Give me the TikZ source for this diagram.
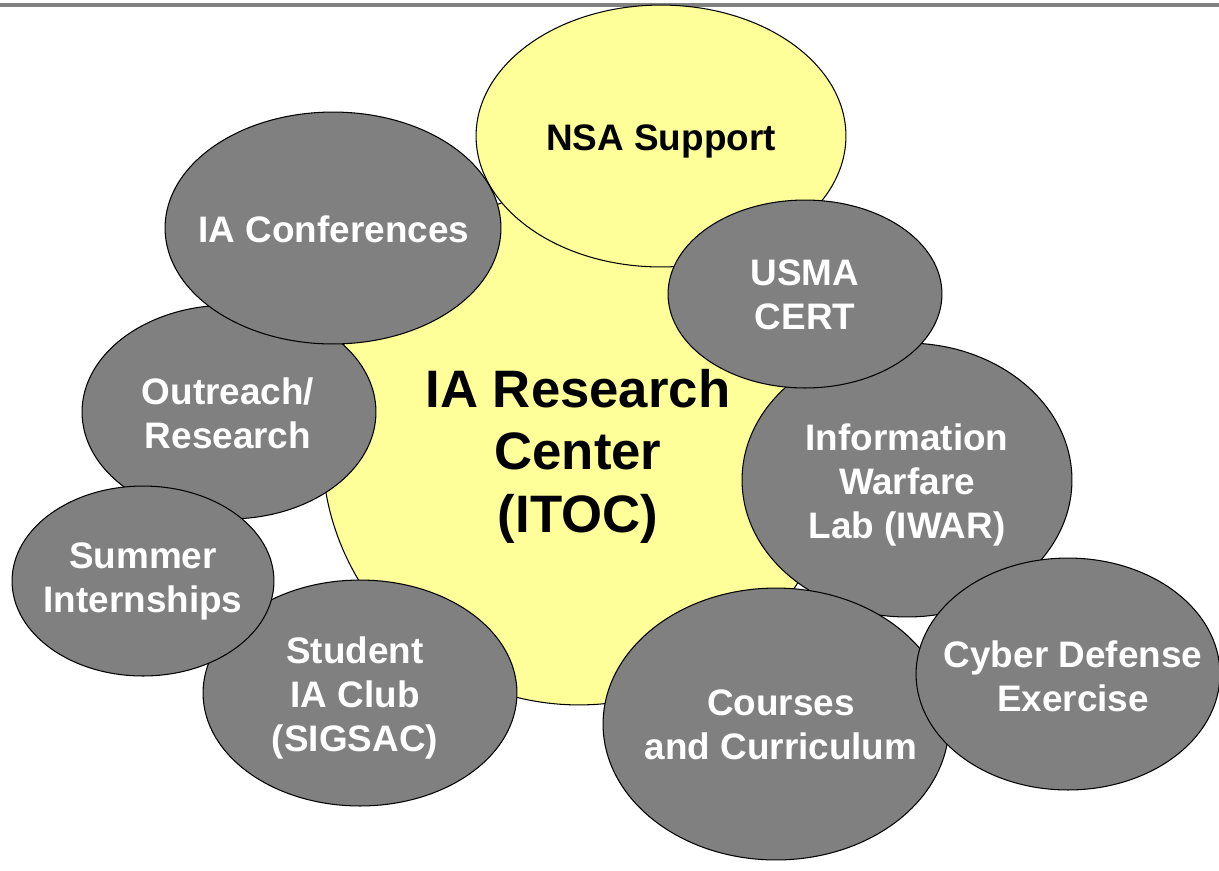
\documentclass[tikz,border=0pt]{standalone}
\usepackage{fontspec}
\setmainfont{Liberation Sans}
\usepackage{tikz}
\usetikzlibrary{shapes.geometric}
\definecolor{hubyellow}{HTML}{FFFF99}
\definecolor{bubgray}{HTML}{808080}
\tikzset{
  blob/.style 2 args={ellipse, draw=black, line width=0.6pt, inner sep=0pt,
    minimum width=#1*0.04cm, minimum height=#2*0.04cm},
  ytext/.style={text=black, align=center, font=\fontsize{21}{25}\selectfont\bfseries},
  gtext/.style={text=white, align=center, font=\fontsize{21}{25}\selectfont\bfseries}
}
\begin{document}
\begin{tikzpicture}[x=0.02cm,y=-0.02cm]
\useasboundingbox (0,0) rectangle (1219,870);
\draw[bubgray, line width=0.08cm] (0,4.5) -- (1219,4.5);
% centre and the ring round it
\node[blob={257}{257}, fill=hubyellow] (itoc) at (579,448) {};
\node[ytext, font=\fontsize{30}{35.5}\selectfont\bfseries] (itoctext) at (578,456) {IA Research\\Center\\(ITOC)};
\node[blob={185}{131}, fill=hubyellow] (nsa) at (661,136) {};
\node[ytext] (nsatext) at (661,141) {NSA Support};
\node[blob={147}{107}, fill=bubgray] (outreach) at (229,412) {};
\node[gtext] (outreachtext) at (228,413) {Outreach/\\Research};
\node[blob={168}{116}, fill=bubgray] (conf) at (333,228) {};
\node[gtext] (conftext) at (334,229) {IA Conferences};
\node[blob={157}{113}, fill=bubgray] (sigsac) at (360,693) {};
\node[gtext] (sigsactext) at (355,698) {Student\\IA Club\\(SIGSAC)};
\node[blob={131}{95}, fill=bubgray] (summer) at (143,581) {};
\node[gtext] (summertext) at (143,581) {Summer\\Internships};
\node[blob={165}{137}, fill=bubgray] (iwar) at (907,480) {};
\node[gtext] (iwartext) at (907,485) {Information\\Warfare\\Lab (IWAR)};
\node[blob={137}{94}, fill=bubgray] (cert) at (805,294) {};
\node[gtext] (certtext) at (805,295) {USMA\\CERT};
\node[blob={173}{136}, fill=bubgray] (courses) at (776,724) {};
\node[gtext] (coursestext) at (781,725) {Courses\\and Curriculum};
\node[blob={152}{116}, fill=bubgray] (cdx) at (1068,674) {};
\node[gtext] (cdxtext) at (1073,676) {Cyber Defense\\Exercise};
\end{tikzpicture}
\end{document}
